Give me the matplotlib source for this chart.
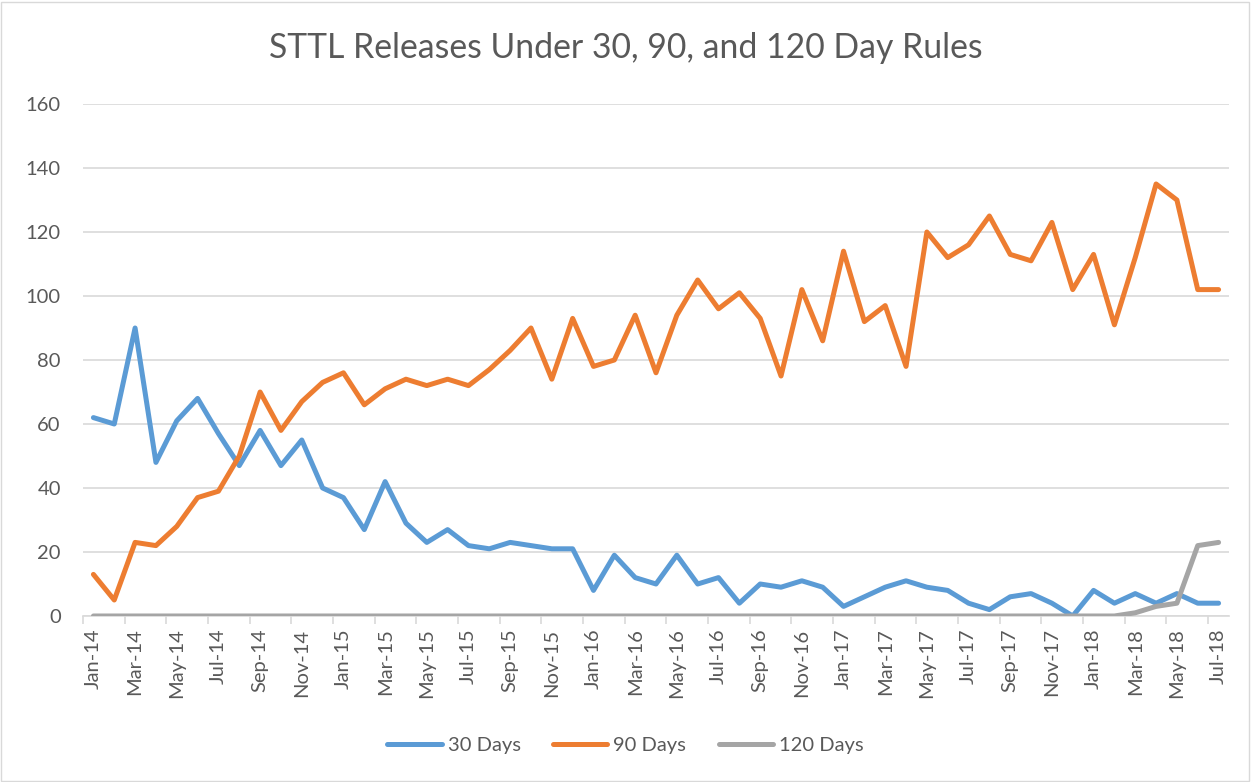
import matplotlib
matplotlib.use("Agg")
import matplotlib.pyplot as plt
from matplotlib.patches import Rectangle
from matplotlib.lines import Line2D

plt.rcParams['font.family'] = ['Lato', 'DejaVu Sans']

months = ["Jan-14", "Feb-14", "Mar-14", "Apr-14", "May-14", "Jun-14", "Jul-14", "Aug-14", "Sep-14", "Oct-14", "Nov-14", "Dec-14",
          "Jan-15", "Feb-15", "Mar-15", "Apr-15", "May-15", "Jun-15", "Jul-15", "Aug-15", "Sep-15", "Oct-15", "Nov-15", "Dec-15",
          "Jan-16", "Feb-16", "Mar-16", "Apr-16", "May-16", "Jun-16", "Jul-16", "Aug-16", "Sep-16", "Oct-16", "Nov-16", "Dec-16",
          "Jan-17", "Feb-17", "Mar-17", "Apr-17", "May-17", "Jun-17", "Jul-17", "Aug-17", "Sep-17", "Oct-17", "Nov-17", "Dec-17",
          "Jan-18", "Feb-18", "Mar-18", "Apr-18", "May-18", "Jun-18", "Jul-18"]

days30 = [62, 60, 90, 48, 61, 68, 57, 47, 58, 47, 55, 40,
          37, 27, 42, 29, 23, 27, 22, 21, 23, 22, 21, 21,
          8, 19, 12, 10, 19, 10, 12, 4, 10, 9, 11, 9,
          3, 6, 9, 11, 9, 8, 4, 2, 6, 7, 4, 0,
          8, 4, 7, 4, 7, 4, 4]

days90 = [13, 5, 23, 22, 28, 37, 39, 50, 70, 58, 67, 73,
          76, 66, 71, 74, 72, 74, 72, 77, 83, 90, 74, 93,
          78, 80, 94, 76, 94, 105, 96, 101, 93, 75, 102, 86,
          114, 92, 97, 78, 120, 112, 116, 125, 113, 111, 123, 102,
          113, 91, 112, 135, 130, 102, 102]

days120 = [0, 0, 0, 0, 0, 0, 0, 0, 0, 0, 0, 0,
           0, 0, 0, 0, 0, 0, 0, 0, 0, 0, 0, 0,
           0, 0, 0, 0, 0, 0, 0, 0, 0, 0, 0, 0,
           0, 0, 0, 0, 0, 0, 0, 0, 0, 0, 0, 0,
           0, 0, 1, 3, 4, 22, 23]

series_names = ["30 Days", "90 Days", "120 Days"]
colors = ["#5B9BD5", "#ED7D31", "#A5A5A5"]
title = "STTL Releases Under 30, 90, and 120 Day Rules"

W, H = 1251, 782
fig = plt.figure(figsize=(W / 100, H / 100), dpi=100)
fig.patches.append(Rectangle((1 / W, 1 / H), 1 - 3 / W, 1 - 3 / H, transform=fig.transFigure,
                             fill=False, edgecolor="#D9D9D9", linewidth=1))

left, right, top, bottom = 83, 1229, 104, 616
ax = fig.add_axes([left / W, (H - bottom) / H, (right - left) / W, (bottom - top) / H])

x = list(range(len(months)))
for vals, name, c in zip([days30, days90, days120], series_names, colors):
    ax.plot(x, vals, color=c, linewidth=3.6, label=name, solid_capstyle="round",
            solid_joinstyle="round", zorder=3)

ax.set_xlim(-0.5, len(months) - 0.5)
ax.set_ylim(0, 160)
ax.set_yticks(range(0, 161, 20))
ax.yaxis.grid(True, color="#D9D9D9", linewidth=1.2)
ax.set_axisbelow(True)
for s in ["top", "right", "left"]:
    ax.spines[s].set_visible(False)
ax.spines["bottom"].set_color("#D9D9D9")
ax.spines["bottom"].set_linewidth(1.2)

ax.set_xticks(x[::2])
ax.set_xticklabels(months[::2], rotation=90)
ax.set_xticks([i - 0.5 for i in x[::2]], minor=True)
ax.tick_params(axis="x", which="major", length=0, pad=9, labelsize=14.5, labelcolor="#595959")
ax.tick_params(axis="x", which="minor", length=6, color="#D9D9D9", width=1.2)
ax.tick_params(axis="y", length=0, pad=16, labelsize=14.5, labelcolor="#595959")

fig.text(0.5, (H - 48) / H, title, ha="center", va="center", fontsize=24.3, color="#595959")

handles = [Line2D([0], [0], color=c, linewidth=3.6, solid_capstyle="round") for c in colors]
fig.legend(handles, series_names, loc="center", bbox_to_anchor=(0.5, (H - 745) / H), ncol=3,
           frameon=False, fontsize=14.5, labelcolor="#595959", handlelength=2.7,
           columnspacing=1.6, handletextpad=0.3)

fig.savefig("out.png", dpi=100)
